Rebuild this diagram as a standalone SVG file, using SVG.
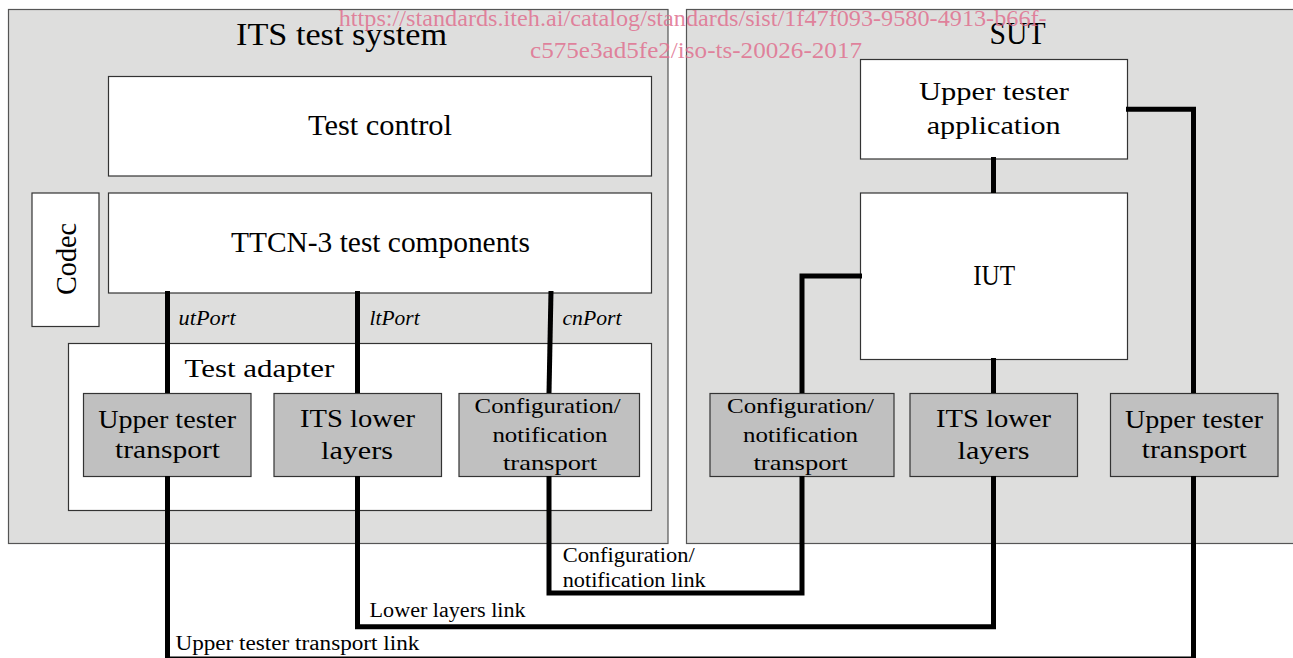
<svg xmlns="http://www.w3.org/2000/svg" width="1293" height="658" viewBox="0 0 1293 658">
<style>
.sys{fill:#dededd;stroke:#555;stroke-width:1.2}
.wbox{fill:#fff;stroke:#333;stroke-width:1.2}
.gbox{fill:#c0c0c0;stroke:#333;stroke-width:1.2}
text{font-family:"Liberation Serif","DejaVu Serif",serif;fill:#000}
.big{font-size:32px}
.lbl{font-size:29px}
.ta{font-size:26px}
.box{font-size:25px}
.sm{font-size:22px}
.port{font-size:20px;font-style:italic}
.link{font-size:20px}
.conn{fill:none;stroke:#000;stroke-width:5;stroke-linejoin:miter}
.wm{font-size:23px;fill:#e0708f;fill-opacity:0.85}
</style>
<g id="its-test-system">
<rect class="sys" x="8.5" y="9.5" width="659.5" height="534"/>
<text class="big" x="236" y="44.5" textLength="211" lengthAdjust="spacingAndGlyphs">ITS test system</text>
</g>
<g id="sut">
<rect class="sys" x="686.5" y="9.5" width="610" height="534"/>
<text class="big" x="989.6" y="44" textLength="56" lengthAdjust="spacingAndGlyphs">SUT</text>
</g>
<g id="test-control">
<rect class="wbox" x="108.5" y="76.5" width="543" height="99.5"/>
<text class="lbl" x="308" y="135" textLength="144" lengthAdjust="spacingAndGlyphs">Test control</text>
</g>
<g id="ttcn3">
<rect class="wbox" x="108.5" y="193" width="543" height="100"/>
<text class="lbl" x="231" y="251.7" textLength="299" lengthAdjust="spacingAndGlyphs">TTCN-3 test components</text>
</g>
<g id="codec">
<rect class="wbox" x="32" y="193" width="67" height="133.5"/>
<text class="lbl" transform="translate(75.5 295) rotate(-90)" x="0" y="0" textLength="72" lengthAdjust="spacingAndGlyphs">Codec</text>
</g>
<g id="test-adapter">
<rect class="wbox" x="68.5" y="343.5" width="583" height="167"/>
<text class="ta" x="184.4" y="376.7" textLength="150" lengthAdjust="spacingAndGlyphs">Test adapter</text>
</g>
<g id="ut-transport-left">
<rect class="gbox" x="83.5" y="393.5" width="167.5" height="83"/>
<text class="box" x="98.2" y="427.7" textLength="138" lengthAdjust="spacingAndGlyphs">Upper tester</text>
<text class="box" x="115" y="458" textLength="105" lengthAdjust="spacingAndGlyphs">transport</text>
</g>
<g id="its-lower-left">
<rect class="gbox" x="274" y="393.5" width="167.5" height="83"/>
<text class="box" x="300" y="427.3" textLength="115" lengthAdjust="spacingAndGlyphs">ITS lower</text>
<text class="box" x="321" y="458.5" textLength="72" lengthAdjust="spacingAndGlyphs">layers</text>
</g>
<g id="cn-transport-left">
<rect class="gbox" x="459" y="393.5" width="180.5" height="83"/>
<text class="sm" x="474.6" y="413" textLength="146" lengthAdjust="spacingAndGlyphs">Configuration/</text>
<text class="sm" x="492.4" y="441.7" textLength="115" lengthAdjust="spacingAndGlyphs">notification</text>
<text class="sm" x="503" y="470" textLength="94" lengthAdjust="spacingAndGlyphs">transport</text>
</g>
<g id="ut-application">
<rect class="wbox" x="860.5" y="59.5" width="267" height="99.5"/>
<text class="ta" x="918.9" y="100" textLength="150" lengthAdjust="spacingAndGlyphs">Upper tester</text>
<text class="ta" x="926.7" y="134.3" textLength="134" lengthAdjust="spacingAndGlyphs">application</text>
</g>
<g id="iut">
<rect class="wbox" x="860.5" y="193" width="267" height="166.5"/>
<text class="lbl" x="973.2" y="285" textLength="42" lengthAdjust="spacingAndGlyphs">IUT</text>
</g>
<g id="cn-transport-right">
<rect class="gbox" x="710" y="393.5" width="184" height="83"/>
<text class="sm" x="727" y="413" textLength="147" lengthAdjust="spacingAndGlyphs">Configuration/</text>
<text class="sm" x="743" y="441.7" textLength="115" lengthAdjust="spacingAndGlyphs">notification</text>
<text class="sm" x="753.5" y="470" textLength="94" lengthAdjust="spacingAndGlyphs">transport</text>
</g>
<g id="its-lower-right">
<rect class="gbox" x="910" y="393.5" width="167.5" height="83"/>
<text class="box" x="936" y="427.3" textLength="115" lengthAdjust="spacingAndGlyphs">ITS lower</text>
<text class="box" x="957.5" y="458.5" textLength="72" lengthAdjust="spacingAndGlyphs">layers</text>
</g>
<g id="ut-transport-right">
<rect class="gbox" x="1110.5" y="393.5" width="167.5" height="83"/>
<text class="box" x="1125" y="427.7" textLength="138" lengthAdjust="spacingAndGlyphs">Upper tester</text>
<text class="box" x="1141.8" y="458" textLength="105" lengthAdjust="spacingAndGlyphs">transport</text>
</g>
<g id="connectors">
<path class="conn" d="M167.5 291V393"/>
<path class="conn" d="M357.5 291V393"/>
<path class="conn" d="M551 291L549 393"/>
<path class="conn" d="M993.5 157V193"/>
<path class="conn" d="M993.5 358V393"/>
<path class="conn" d="M862 276H802V393"/>
<path class="conn" d="M1126 109.3H1193.5V393"/>
<path class="conn" d="M167.5 476V659H1193.5V476"/>
<path class="conn" d="M357.5 476V626.7H993.5V476"/>
<path class="conn" d="M549 476V593H802V476"/>
<text class="port" x="178.6" y="325" textLength="57" lengthAdjust="spacingAndGlyphs">utPort</text>
<text class="port" x="369.6" y="325" textLength="50" lengthAdjust="spacingAndGlyphs">ltPort</text>
<text class="port" x="562.5" y="325" textLength="59" lengthAdjust="spacingAndGlyphs">cnPort</text>
<text class="link" x="562.7" y="562.3" textLength="132" lengthAdjust="spacingAndGlyphs">Configuration/</text>
<text class="link" x="562.7" y="587" textLength="143" lengthAdjust="spacingAndGlyphs">notification link</text>
<text class="link" x="369.6" y="616.7" textLength="156" lengthAdjust="spacingAndGlyphs">Lower layers link</text>
<text class="link" x="175.4" y="650" textLength="244" lengthAdjust="spacingAndGlyphs">Upper tester transport link</text>
</g>
<g id="watermark">
<text class="wm" x="338.7" y="26" textLength="708" lengthAdjust="spacingAndGlyphs">https://standards.iteh.ai/catalog/standards/sist/1f47f093-9580-4913-b66f-</text>
<text class="wm" x="530" y="58.3" textLength="332" lengthAdjust="spacingAndGlyphs">c575e3ad5fe2/iso-ts-20026-2017</text>
</g>
</svg>
